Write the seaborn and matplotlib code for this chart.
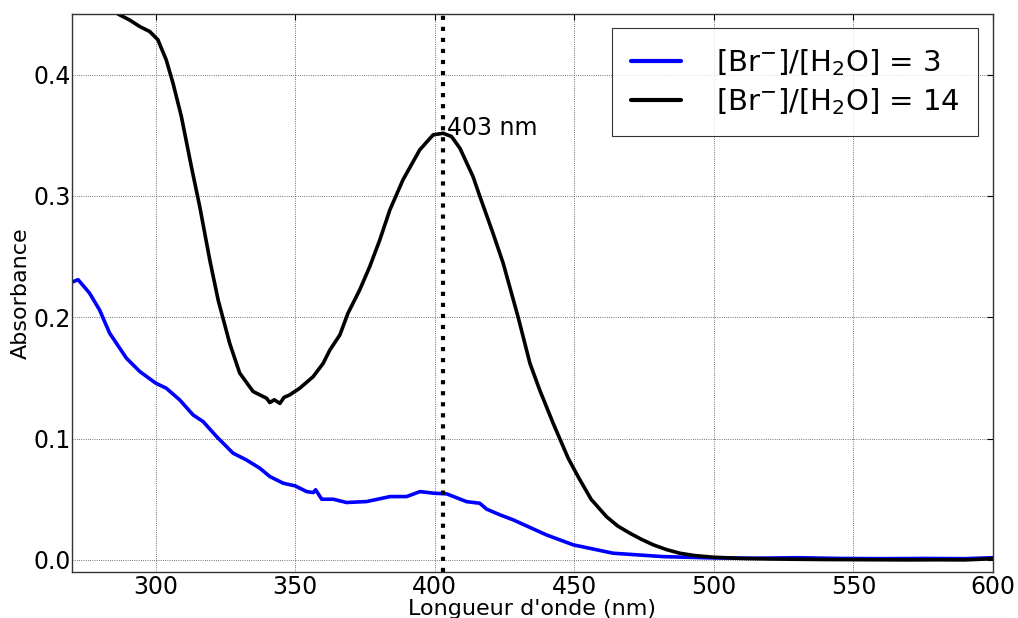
import numpy as np
import pandas as pd
import matplotlib
matplotlib.use("Agg")
import matplotlib.pyplot as plt
import seaborn as sns

# ---- data ----
wl_black = [270, 276, 281, 286.5, 290.7, 294.3, 297.9, 300.8, 303.8, 306.2, 309.2, 312.8,
            315.8, 319.4, 322.4, 326.5, 330.1, 334.9, 339.7, 340.9, 342.5, 344.5, 346.0,
            348.0, 351.6, 356.4, 360.0, 362.4, 366.0, 368.9, 373.1, 376.7, 380.3, 383.9,
            388.6, 394.6, 399.4, 403.0, 406.0, 409.0, 413.7, 416.1, 420.9, 424.5, 429.9,
            434.1, 437.6, 442.4, 447.8, 451.5, 456.0, 461.5, 465.5, 469.9, 474.0, 478.3,
            483.0, 487.8, 493.0, 499.8, 510, 520, 530, 540, 550, 560, 570, 580, 590, 600]
abs_black = [0.50, 0.48, 0.465, 0.450, 0.445, 0.4397, 0.4355, 0.4287, 0.412, 0.393, 0.3655,
             0.324, 0.291, 0.247, 0.214, 0.1786, 0.154, 0.1388, 0.1333, 0.1297, 0.132,
             0.129, 0.134, 0.136, 0.1415, 0.151, 0.162, 0.173, 0.1855, 0.2034, 0.2226,
             0.2418, 0.2638, 0.2885, 0.3133, 0.338, 0.3504, 0.3517, 0.349, 0.3394, 0.316,
             0.300, 0.269, 0.2446, 0.1998, 0.162, 0.140, 0.1127, 0.0838, 0.068, 0.050,
             0.0357, 0.028, 0.022, 0.017, 0.0124, 0.0085, 0.0055, 0.0036, 0.0022, 0.0012,
             0.0008, 0.0005, 0.0003, 0.0002, 0.0001, 0.0, 0.0001, 0.0, 0.001]

wl_blue = [270, 272.2, 276.3, 279.9, 283.5, 289.5, 294.3, 300.0, 303.8, 308.6, 313.4, 317.0,
           321.8, 327.7, 332.5, 337.3, 340.9, 345.7, 350.0, 354.1, 356.5, 357.3, 359.5,
           363.6, 368.4, 375.6, 384.0, 389.9, 394.7, 399.5, 404.3, 411.4, 416.1, 418.6,
           423.4, 428.1, 440.0, 449.6, 463.9, 481.8, 499.8, 515, 530, 545, 560, 575,
           590, 600]
abs_blue = [0.229, 0.231, 0.2199, 0.206, 0.1869, 0.1663, 0.1553, 0.1457, 0.1415, 0.1319,
            0.1195, 0.114, 0.1017, 0.088, 0.0824, 0.0756, 0.0687, 0.0632, 0.061, 0.0563,
            0.0555, 0.0578, 0.050, 0.050, 0.0473, 0.0481, 0.0522, 0.0522, 0.0563, 0.055,
            0.0544, 0.048, 0.0467, 0.0418, 0.0371, 0.033, 0.0206, 0.0124, 0.0055, 0.0027,
            0.0016, 0.0014, 0.0018, 0.0012, 0.0010, 0.0012, 0.0010, 0.0018]

labels = [r'[Br$^{-}$]/[H$_2$O] = 3', r'[Br$^{-}$]/[H$_2$O] = 14']
colors = ['#0000ff', '#000000']
peak_wl = 403
xticks = [300, 350, 400, 450, 500, 550, 600]
yticks = [0.0, 0.1, 0.2, 0.3, 0.4]

df = pd.concat([
    pd.DataFrame({'wl': wl_blue, 'abs': abs_blue, 'serie': labels[0]}),
    pd.DataFrame({'wl': wl_black, 'abs': abs_black, 'serie': labels[1]}),
], ignore_index=True)

sns.set_style("white")
plt.rcParams['font.family'] = ['DejaVu Sans']
plt.rcParams['mathtext.fontset'] = 'dejavusans'
plt.rcParams['text.color'] = 'k'
plt.rcParams['axes.labelcolor'] = 'k'

fig = plt.figure(figsize=(10.18, 6.18), dpi=100)
ax = fig.add_axes([0.0707, 0.0744, 0.9754 - 0.0707, 0.9773 - 0.0744])

sns.lineplot(data=df, x='wl', y='abs', hue='serie', hue_order=labels,
             palette=dict(zip(labels, colors)), sort=False, estimator=None,
             linewidth=2.6, ax=ax)

ax.axvline(peak_wl, color='k', linestyle=':', linewidth=3)
ax.text(peak_wl + 1.5, 0.356, f'{peak_wl} nm', fontsize=17, va='center', ha='left', color='k')

ax.set_xlim(270, 600)
ax.set_ylim(-0.01, 0.45)
ax.set_xticks(xticks)
ax.set_yticks(yticks)
ax.set_xticklabels([str(t) for t in xticks])
ax.set_yticklabels([f'{t:.1f}' for t in yticks])
ax.tick_params(direction='in', length=4, width=0.8, labelsize=17, top=True, right=True,
               pad=2, colors='k')
ax.tick_params(axis='y', pad=1)
ax.grid(True, color='#444444', linestyle=':', linewidth=0.6)
for s in ax.spines.values():
    s.set_color('#333333')
    s.set_linewidth(1.0)
    s.set_visible(True)

ax.set_xlabel("Longueur d'onde (nm)", fontsize=16, labelpad=0, color='k')
ax.set_ylabel('Absorbance', fontsize=16, labelpad=2, color='k')

leg = ax.legend(loc='upper right', fontsize=21, frameon=True, fancybox=False,
                handlelength=1.7, borderpad=0.65, labelspacing=0.3, handletextpad=1.2,
                borderaxespad=0, bbox_to_anchor=(0.984, 0.975))
leg.get_frame().set_edgecolor('k')
leg.get_frame().set_linewidth(0.8)
for t in leg.get_texts():
    t.set_color('k')
for line in leg.get_lines():
    line.set_linewidth(3)

fig.savefig('out.png', dpi=100)
